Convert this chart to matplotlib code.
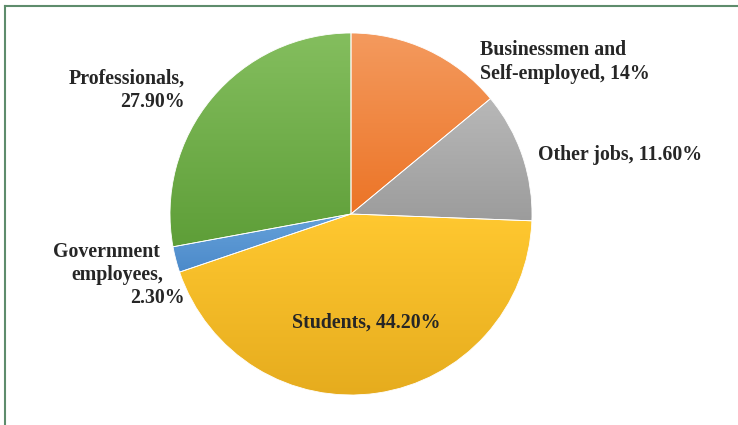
import numpy as np
import matplotlib
matplotlib.use("Agg")
import matplotlib.pyplot as plt
from matplotlib.colors import LinearSegmentedColormap
from matplotlib.lines import Line2D

# Occupation shares (%), clockwise from 12 o'clock
categories = ["Businessmen and Self-employed", "Other jobs", "Students",
              "Government employees", "Professionals"]
shares = [14.0, 11.6, 44.2, 2.3, 27.9]
labels = ["Businessmen and\nSelf-employed, 14%", "Other jobs, 11.60%",
          "Students, 44.20%", "Government\nemployees,\n2.30%",
          "Professionals,\n27.90%"]

# light (top) -> dark (bottom) shade for each slice
shades = [("#F49A5E", "#EC7426"),
          ("#B8B8B8", "#9C9C9C"),
          ("#FFC830", "#E6AC1E"),
          ("#66A2DA", "#4C8ACA"),
          ("#84BE5E", "#5E9E38")]

W, H = 738, 425
fig = plt.figure(figsize=(W / 100, H / 100), dpi=100)
ax = fig.add_axes([0, 0, 1, 1])

cx, cy, r = 351, 211, 181
wedges, _ = ax.pie(shares, startangle=90, counterclock=False,
                   center=(cx, cy), radius=r, frame=True,
                   wedgeprops=dict(facecolor="none", edgecolor="white",
                                   linewidth=0.6, zorder=2))

# vertical gradient fill spanning each slice's own bounding box
grad = np.linspace(0, 1, 256).reshape(-1, 1)
for w, (c_top, c_bot) in zip(wedges, shades):
    cmap = LinearSegmentedColormap.from_list("s", [c_top, c_bot])
    bb = w.get_path().get_extents()
    im = ax.imshow(grad, cmap=cmap, aspect="auto", origin="upper",
                   extent=(bb.x0, bb.x1, bb.y0, bb.y1), zorder=1,
                   interpolation="bilinear")
    im.set_clip_path(w)

ax.set_xlim(0, W)
ax.set_ylim(0, H)
ax.set_aspect("equal")
ax.axis("off")

font = dict(family=["Liberation Serif", "DejaVu Serif"], fontweight="bold",
            fontsize=14.3, color="#262626", linespacing=1.22)

ax.text(480, H - 62, labels[0], ha="left", va="center", **font)
ax.text(538, H - 155, labels[1], ha="left", va="center", **font)
ax.text(366, H - 323, labels[2], ha="center", va="center", **font)
ax.text(185, H - 90, labels[4], ha="right", va="center",
        multialignment="right", **font)
gov_lines = labels[3].split("\n")
ax.text(160, H - 252, gov_lines[0], ha="right", va="center", **font)
ax.text(163, H - 275, gov_lines[1], ha="right", va="center", **font)
ax.text(185, H - 298, gov_lines[2], ha="right", va="center", **font)

# frame lines along the top and left edges
border = "#5E8C6C"
fig.add_artist(Line2D([5 / W, 1], [1 - 6 / H, 1 - 6 / H],
                      transform=fig.transFigure, color=border, linewidth=1.5))
fig.add_artist(Line2D([5 / W, 5 / W], [0, 1 - 6 / H],
                      transform=fig.transFigure, color=border, linewidth=1.5))

fig.savefig("out.png", dpi=100, facecolor="white")
